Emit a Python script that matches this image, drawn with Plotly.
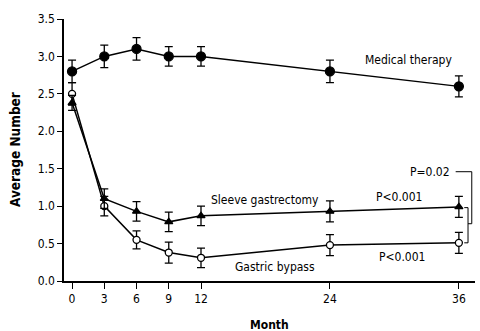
import plotly.graph_objects as go

months = [0, 3, 6, 9, 12, 24, 36]
medical = [2.8, 3.0, 3.1, 3.0, 3.0, 2.8, 2.6]
medical_err = [0.15, 0.15, 0.15, 0.13, 0.13, 0.15, 0.14]
sleeve = [2.38, 1.1, 0.93, 0.79, 0.87, 0.93, 0.99]
sleeve_err = [0.1, 0.13, 0.13, 0.13, 0.13, 0.14, 0.14]
bypass = [2.5, 1.0, 0.55, 0.38, 0.31, 0.48, 0.51]
bypass_err = [0.15, 0.13, 0.12, 0.14, 0.13, 0.14, 0.14]
x_ticks = [0, 3, 6, 9, 12, 24, 36]
y_ticks = [0.0, 0.5, 1.0, 1.5, 2.0, 2.5, 3.0, 3.5]

FONT = "Liberation Sans Narrow, DejaVu Sans Condensed, Arial Narrow, sans-serif"

fig = go.Figure()

def add_series(y, err, symbol, size, fill):
    fig.add_trace(go.Scatter(
        x=months, y=y, mode="lines+markers",
        line=dict(color="black", width=1.5),
        marker=dict(symbol=symbol, size=size,
                    color="black" if fill else "white",
                    line=dict(color="black", width=1.3)),
        error_y=dict(type="data", array=err, visible=True,
                     color="black", thickness=1.3, width=4),
        showlegend=False,
    ))

add_series(bypass, bypass_err, "circle", 7, False)
add_series(sleeve, sleeve_err, "triangle-up", 7, True)
add_series(medical, medical_err, "circle", 9, True)

ann_font = dict(family=FONT, size=12, color="black")
annotations = [
    dict(x=31.3, y=2.95, text="Medical therapy"),
    dict(x=18.0, y=1.08, text="Sleeve gastrectomy"),
    dict(x=18.9, y=0.19, text="Gastric bypass"),
    dict(x=30.4, y=1.12, text="P<0.001"),
    dict(x=30.7, y=0.32, text="P<0.001"),
    dict(x=33.3, y=1.46, text="P=0.02"),
]
for a in annotations:
    fig.add_annotation(x=a["x"], y=a["y"], text=a["text"], showarrow=False,
                       xref="x", yref="y", font=ann_font)

# axis titles
fig.add_annotation(x=0.5, y=0, xref="paper", yref="paper", yshift=-44,
                   text="<b>Month</b>", showarrow=False, font=ann_font,
                   xanchor="center", yanchor="middle")
fig.add_annotation(x=0, y=0.5, xref="paper", yref="paper", xshift=-49,
                   text="<b>Average Number</b>", showarrow=False,
                   font=dict(family=FONT, size=13.5, color="black"),
                   textangle=-90, xanchor="center", yanchor="middle")

# brackets
line = dict(color="black", width=1)
fig.add_shape(type="line", x0=36.5, x1=36.85, y0=0.98, y1=0.98, line=line)
fig.add_shape(type="line", x0=36.85, x1=36.85, y0=0.98, y1=0.51, line=line)
fig.add_shape(type="line", x0=36.5, x1=36.85, y0=0.51, y1=0.51, line=line)
fig.add_shape(type="line", x0=36.85, x1=37.2, y0=0.765, y1=0.765, line=line)
fig.add_shape(type="line", x0=37.2, x1=37.2, y0=0.765, y1=1.46, line=line)
fig.add_shape(type="line", x0=35.7, x1=37.2, y0=1.46, y1=1.46, line=line)

fig.update_layout(
    width=480, height=331,
    margin=dict(l=64, r=5, t=19, b=50),
    paper_bgcolor="white", plot_bgcolor="white",
    font=dict(family=FONT, size=12, color="black"),
    xaxis=dict(range=[-0.75, 37.5], tickvals=x_ticks, ticks="outside",
               ticklen=6, tickwidth=1.3, tickcolor="black",
               showline=True, linecolor="black", linewidth=1.5,
               showgrid=False, zeroline=False, automargin=False,
               tickfont=dict(family=FONT, size=12)),
    yaxis=dict(range=[0, 3.5], tickvals=y_ticks, tickformat=".1f", ticks="outside",
               ticklen=5, tickwidth=1.3, tickcolor="black",
               showline=True, linecolor="black", linewidth=1.5,
               showgrid=False, zeroline=False, automargin=False,
               tickfont=dict(family=FONT, size=12)),
)

fig.write_html("out.html")
